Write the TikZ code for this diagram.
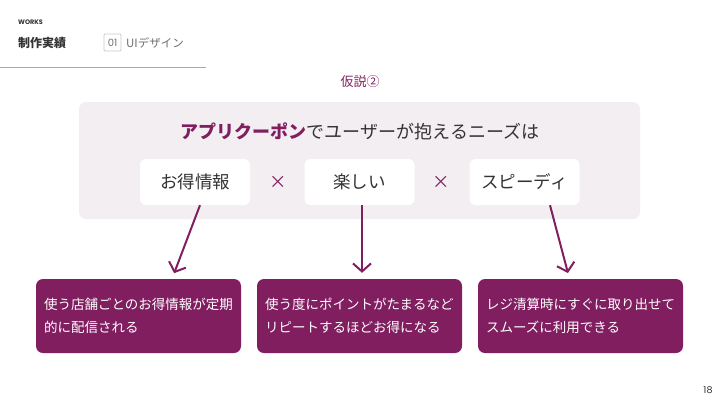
\documentclass[tikz,border=0pt]{standalone}
\usepackage{fontspec}
\setmainfont{Noto Sans CJK JP}
\newfontfamily\latinsans{Poppins}
\usetikzlibrary{arrows.meta,calc}
\definecolor{brand}{RGB}{128,30,96}
\definecolor{panelbg}{RGB}{243,238,242}
\definecolor{ink}{RGB}{51,51,51}
\definecolor{greyline}{RGB}{170,170,170}
\definecolor{greybox}{RGB}{200,200,200}
\definecolor{greytext}{RGB}{110,110,110}
\tikzset{
  panel/.style={fill=panelbg, rounded corners=7pt, draw=none},
  needbox/.style={fill=white, rounded corners=6pt, minimum width=110pt, minimum height=46pt, inner sep=0pt, text=ink, font=\fontsize{17.5}{20}\selectfont},
  resultbox/.style={fill=brand, rounded corners=7pt, minimum width=205pt, minimum height=74pt, text width=189pt, inner xsep=8pt, inner ysep=0pt, align=left, text=white, font=\fontsize{13.5}{23.5}\selectfont},
  crossmark/.style={text=brand, font=\fontsize{17.5}{20}\selectfont, inner sep=0pt},
  arr/.style={draw=brand, line width=2pt, -{Straight Barb[length=8pt,width=18pt,line width=2pt]}, shorten >=6pt}
}
\begin{document}
\begin{tikzpicture}[x=1pt,y=-1pt]
\useasboundingbox (0,0) rectangle (720,405);
% header
\node[anchor=west, inner sep=0pt, text=ink, font=\latinsans\bfseries\fontsize{6.5}{8}\selectfont] (works) at (18,22) {WORKS};
\node[anchor=west, inner sep=0pt, text=ink, font=\bfseries\fontsize{12}{14}\selectfont] (jisseki) at (18,42.5) {制作実績};
\node[anchor=center, draw=greybox, line width=0.8pt, rounded corners=1pt, minimum width=17pt, minimum height=17pt, inner sep=0pt, text=greytext, font=\latinsans\fontsize{10}{11}\selectfont] (num) at (112.5,42.5) {01};
\node[anchor=west, inner sep=0pt, text=greytext, font=\fontsize{11.5}{13}\selectfont] (cat) at (126,42.5) {UIデザイン};
\coordinate (hl0) at (0,67);
\coordinate (hl1) at (206,67);
\draw[greyline, line width=1pt] (hl0) -- (hl1);
% hypothesis label
\node[text=brand, inner sep=0pt, font=\fontsize{13}{15}\selectfont] (hyp) at (360,82) {仮説②};
% panel
\node[panel, minimum width=561pt, minimum height=117pt, inner sep=0pt] (pnl) at (359.5,160.5) {};
\node[inner sep=0pt, text=ink, font=\fontsize{18}{20}\selectfont] (title) at (360,131) {{\bfseries\color{brand}アプリクーポン}でユーザーが抱えるニーズは};
\node[needbox] (n1) at (195,182) {お得情報};
\node[needbox] (n2) at (359.5,182) {楽しい};
\node[needbox] (n3) at (524.5,182) {スピーディ};
\node[crossmark] (x1) at (278,182) {×};
\node[crossmark] (x2) at (441,182) {×};
% result boxes
\node[resultbox] (r1) at (138.5,316) {使う店舗ごとのお得情報が定期\\的に配信される};
\node[resultbox] (r2) at (359.5,316) {使う度にポイントがたまるなど\\リピートするほどお得になる};
\node[resultbox] (r3) at (580.5,316) {レジ清算時にすぐに取り出せて\\スムーズに利用できる};
% arrows
\draw[arr] ([xshift=5pt]n1.south) -- ([xshift=33.5pt]r1.north);
\draw[arr] ([xshift=2.5pt]n2.south) -- ([xshift=2.5pt]r2.north);
\draw[arr] ([xshift=25.5pt]n3.south) -- ([xshift=-11pt]r3.north);
% page number
\node[inner sep=0pt, text=ink, font=\latinsans\fontsize{9.5}{10}\selectfont] (pg) at (708,390) {18};
\end{tikzpicture}
\end{document}
